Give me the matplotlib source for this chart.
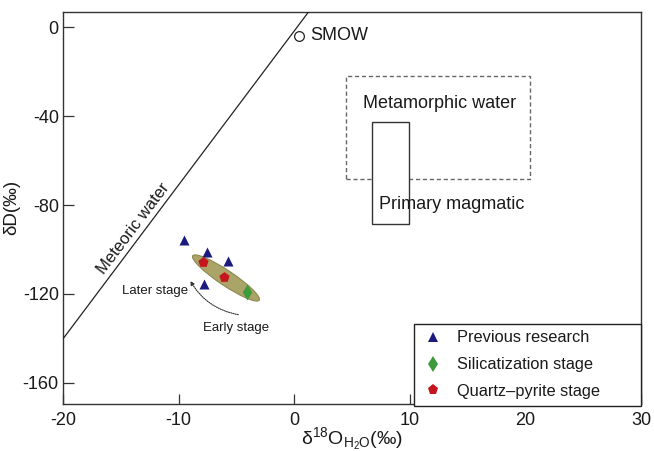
import matplotlib
matplotlib.use("Agg")
import matplotlib.pyplot as plt
import matplotlib.transforms as mtransforms
from matplotlib.patches import Ellipse, Rectangle
from matplotlib.lines import Line2D

plt.rcParams["font.family"] = ["Liberation Sans", "DejaVu Sans"]
plt.rcParams["mathtext.fontset"] = "custom"
plt.rcParams["mathtext.rm"] = "Liberation Sans"
plt.rcParams["mathtext.it"] = "Liberation Sans:italic"

# values
prev_x = [-9.5, -7.5, -5.7, -7.8]
prev_y = [-95.8, -101.0, -105.2, -115.5]
silic_x = [-4.1]
silic_y = [-119.0]
qp_x = [-7.9, -6.1]
qp_y = [-105.5, -112.3]

smow = (0.4, -3.7)
mwl_x = [-20, 1.24]
mwl_y = [-140.2, 6.9]

meta_box = (4.5, -68.4, 20.4, -22.0)  # x0, y0, x1, y1
magm_box = (6.7, -88.7, 9.9, -42.7)

ell_center = (-5.9, -112.8)

xticks = [-20, -10, 0, 10, 20, 30]
yticks = [0, -40, -80, -120, -160]

txt = "#1a1a1a"
fig = plt.figure(figsize=(6.54, 4.51), dpi=100)
ax = fig.add_axes([0.0963, 0.1042, 0.8838, 0.8698])
ax.set_xlim(-20, 30)
ax.set_ylim(-169.5, 7)

# boxes
x0, y0, x1, y1 = meta_box
ax.add_patch(Rectangle((x0, y0), x1 - x0, y1 - y0, fill=False,
                       edgecolor="#666666", lw=1.0, ls=(0, (3, 2)), zorder=2))
x0, y0, x1, y1 = magm_box
ax.add_patch(Rectangle((x0, y0), x1 - x0, y1 - y0, facecolor="white",
                       edgecolor="#333333", lw=1.0, zorder=3))
ax.text(12.6, -34.5, "Metamorphic water", fontsize=13, color=txt,
        ha="center", va="center", zorder=5)
ax.text(13.6, -79.6, "Primary magmatic", fontsize=13, color=txt,
        ha="center", va="center", zorder=5)

# meteoric water line + SMOW
ax.plot(mwl_x, mwl_y, color="#222222", lw=0.9, zorder=3)
ax.text(-13.9, -90.5, "Meteoric water", fontsize=12, color=txt,
        rotation=53, ha="center", va="center", rotation_mode="anchor")
ax.plot(*smow, marker="o", ms=7, mfc="white", mec="#222222", mew=0.9, zorder=4)
ax.text(1.4, -3.7, "SMOW", fontsize=13, color=txt, va="center")

# ellipse drawn in screen inches, centred on data point
trans = fig.dpi_scale_trans + mtransforms.ScaledTranslation(
    ell_center[0], ell_center[1], ax.transData)
ax.add_patch(Ellipse((0, 0), 0.80, 0.15, angle=-33.8, transform=trans,
                     facecolor="#aaa468", edgecolor="#8e8950", lw=0.8, zorder=3))

ax.scatter(prev_x, prev_y, marker="^", s=52, color="#1c1a7e", zorder=5, lw=0)
ax.scatter(silic_x, silic_y, marker="d", s=65, color="#3d9a3d", zorder=5, lw=0)
ax.scatter(qp_x, qp_y, marker="p", s=60, color="#c4161c", zorder=5, lw=0)

# stage arrow
ax.annotate("", xy=(-9.1, -113.0), xytext=(-4.6, -129.5),
            arrowprops=dict(arrowstyle="-|>", lw=0.8, ls=(0, (1, 1)),
                            color="#333333", mutation_scale=6,
                            connectionstyle="arc3,rad=-0.25"))
ax.text(-12.0, -118.5, "Later stage", fontsize=9.5, color=txt,
        ha="center", va="center")
ax.text(-5.0, -135.5, "Early stage", fontsize=9.5, color=txt,
        ha="center", va="center")

# legend
handles = [
    Line2D([], [], ls="none", marker="^", ms=7.5, color="#1c1a7e", mew=0),
    Line2D([], [], ls="none", marker="d", ms=8.5, color="#3d9a3d", mew=0),
    Line2D([], [], ls="none", marker="p", ms=8, color="#c4161c", mew=0),
]
labels = ["Previous research", "Silicatization stage", "Quartz\u2013pyrite stage"]
leg = ax.legend(handles, labels, loc="lower left",
                bbox_to_anchor=(0.608, -0.005, 0.392, 0.235), mode="expand",
                borderaxespad=0, fancybox=False, framealpha=1,
                edgecolor="#222222", fontsize=11.8, handlelength=1.4,
                handletextpad=0.8, labelspacing=0.72, borderpad=0.42,
                labelcolor=txt)
leg.get_frame().set_linewidth(1.0)
leg.set_zorder(6)

ax.set_xticks(xticks)
ax.set_yticks(yticks)
ax.set_xticklabels([str(v) for v in xticks])
ax.set_yticklabels([str(v) for v in yticks])
ax.tick_params(axis="x", direction="in", length=7, width=0.9, pad=6,
               labelsize=13, colors="#333333", labelcolor=txt)
ax.tick_params(axis="y", direction="in", length=8, width=0.9, pad=3,
               labelsize=13, colors="#333333", labelcolor=txt)
for s in ax.spines.values():
    s.set_linewidth(1.0)
    s.set_color("#333333")

ax.set_xlabel(r"δ$^{18}$O$_{\mathrm{H_2O}}$(‰)", fontsize=14, color=txt,
              labelpad=-3)
ax.set_ylabel("δD(‰)", fontsize=13.5, color=txt, labelpad=2)

fig.savefig("out.png", dpi=100)
